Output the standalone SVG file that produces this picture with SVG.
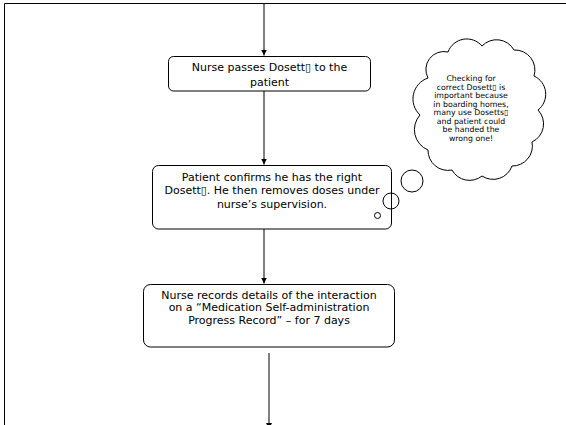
<svg xmlns="http://www.w3.org/2000/svg" width="566" height="425" viewBox="0 0 566 425">
<style>
.box{fill:#fff;stroke:#000;stroke-width:1}
.ln{fill:none;stroke:#000;stroke-width:1}
.t{font-family:"DejaVu Sans",Verdana,sans-serif;font-size:11px;fill:#000;text-anchor:middle}
.c{font-family:"DejaVu Sans",Verdana,sans-serif;font-size:7.8px;fill:#000;text-anchor:middle}
</style>
<defs>
<marker id="ah" markerWidth="8" markerHeight="8" refX="6" refY="3.5" orient="auto" markerUnits="userSpaceOnUse">
<path d="M0,0.5 L6,3.5 L0,6.5 Z" fill="#000"/>
</marker>
</defs>
<rect width="566" height="425" fill="#fff"/>
<g id="frame">
<path class="ln" d="M4.5,425 L4.5,3.5 L566,3.5"/>
</g>
<g id="connectors">
<path class="ln" d="M264,4 L264,55.5" marker-end="url(#ah)"/>
<path class="ln" d="M264,91 L264,164.5" marker-end="url(#ah)"/>
<path class="ln" d="M264,229 L264,283.5" marker-end="url(#ah)"/>
<path class="ln" d="M269,353 L269,429" marker-end="url(#ah)"/>
</g>
<g id="node1">
<rect class="box" x="168.5" y="56.5" width="202" height="34.5" rx="5"/>
<text class="t" x="269.5" y="71">Nurse passes Dosett▯ to the</text>
<text class="t" x="269.5" y="86">patient</text>
</g>
<g id="node2">
<rect class="box" x="152.5" y="165.5" width="239" height="63.5" rx="6"/>
<text class="t" x="272" y="181">Patient confirms he has the right</text>
<text class="t" x="272" y="194">Dosett▯. He then removes doses under</text>
<text class="t" x="272" y="207.5">nurse’s supervision.</text>
</g>
<g id="node3">
<rect class="box" x="143.5" y="284.5" width="251" height="62.5" rx="7"/>
<text class="t" x="269" y="298.5">Nurse records details of the interaction</text>
<text class="t" x="269" y="311">on a “Medication Self-administration</text>
<text class="t" x="269" y="324">Progress Record” – for 7 days</text>
</g>
<g id="callout">
<circle class="ln" cx="377.5" cy="215.5" r="3"/>
<circle class="ln" cx="391" cy="201" r="8"/>
<circle class="ln" cx="412" cy="181" r="11"/>
<path class="box" d="M428,78 A18,18 0 0 1 448,52 A20,20 0 0 1 482,46 A20,20 0 0 1 514,50 A20,20 0 0 1 534,76 A20,20 0 0 1 538,110 A20,20 0 0 1 532,142 A20,20 0 0 1 512,166 A20,20 0 0 1 482,176 A20,20 0 0 1 452,170 A20,20 0 0 1 428,150 A22,22 0 0 1 420,115 A22,22 0 0 1 428,78 Z"/>
<text class="c" x="471" y="81">Checking for</text>
<text class="c" x="471" y="89.5">correct Dosett▯ is</text>
<text class="c" x="471" y="98">important because</text>
<text class="c" x="471" y="106.5">in boarding homes,</text>
<text class="c" x="471" y="115">many use Dosetts▯</text>
<text class="c" x="471" y="123.5">and patient could</text>
<text class="c" x="471" y="132">be handed the</text>
<text class="c" x="471" y="140.5">wrong one!</text>
</g>
</svg>
